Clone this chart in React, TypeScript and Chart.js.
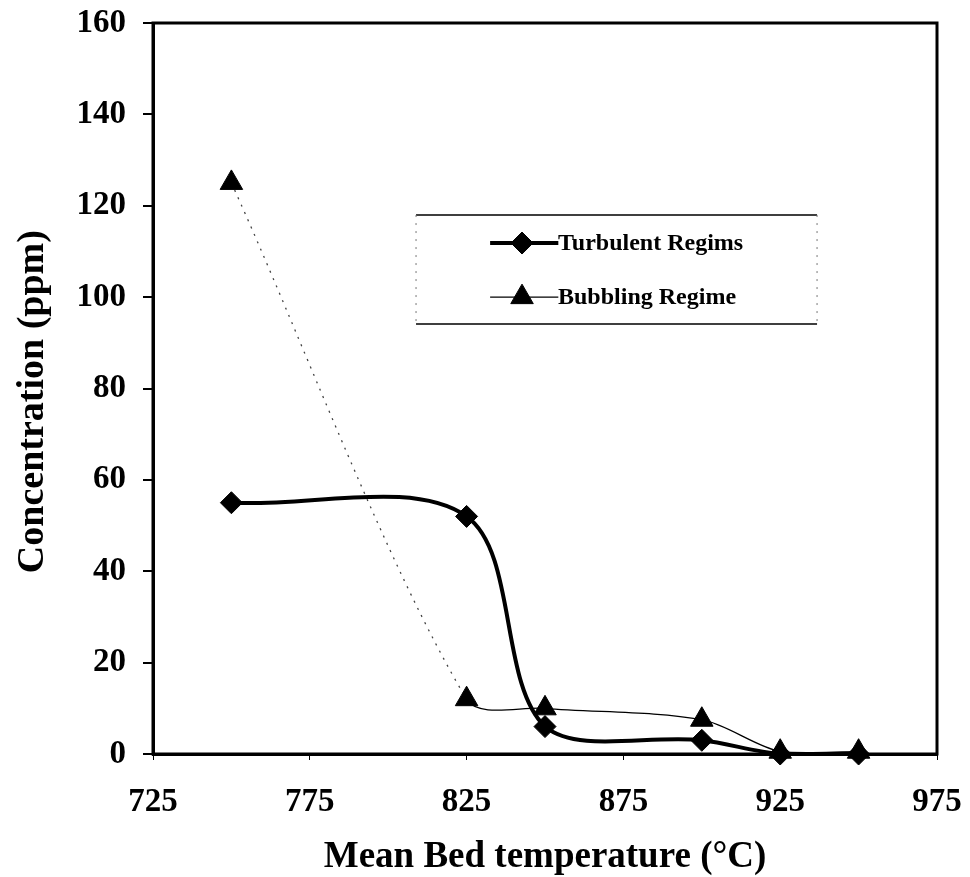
import React, { useEffect, useRef } from 'react';
import { Chart, registerables } from 'chart.js';
import { drawPoint } from 'chart.js/helpers';

Chart.register(...registerables);

const temperatures = [750, 825, 850, 900, 925, 950];
const turbulent = [55, 52, 6, 3, 0, 0];
const bubbling = [125, 12, 10, 7.5, 0.5, 0.5];
const xTickValues = [725, 775, 825, 875, 925, 975];
const yTickValues = [0, 20, 40, 60, 80, 100, 120, 140, 160];
const seriesNames = ['Turbulent Regims', 'Bubbling Regime'];
const xTitle = 'Mean Bed temperature (°C)';
const yTitle = 'Concentration (ppm)';

const FONT = "'Liberation Serif', 'Times New Roman', serif";

const framePlugin = {
  id: 'frame',
  beforeDatasetsDraw(chart: any) {
    const { ctx, chartArea: a } = chart;
    ctx.save();
    ctx.strokeStyle = '#000';
    ctx.lineWidth = 3;
    ctx.strokeRect(a.left, a.top, a.right - a.left, a.bottom - a.top);
    ctx.restore();
  },
};

const yTitlePlugin = {
  id: 'yTitle',
  afterDraw(chart: any) {
    const { ctx, chartArea: a } = chart;
    const h = a.bottom - a.top;
    ctx.save();
    ctx.translate(33, a.top + 0.518 * h);
    ctx.rotate(-Math.PI / 2);
    ctx.fillStyle = '#000';
    ctx.font = `bold 38px ${FONT}`;
    ctx.textAlign = 'center';
    ctx.textBaseline = 'middle';
    ctx.fillText(yTitle, 0, 0);
    ctx.restore();
  },
};

const legendPlugin = {
  id: 'customLegend',
  afterDraw(chart: any) {
    const { ctx, chartArea: a } = chart;
    const w = a.right - a.left;
    const h = a.bottom - a.top;
    const bx0 = a.left + 0.3355 * w;
    const bx1 = a.left + 0.847 * w;
    const by0 = a.top + 0.2627 * h;
    const by1 = a.top + 0.4118 * h;
    ctx.save();
    ctx.fillStyle = '#fff';
    ctx.fillRect(bx0, by0, bx1 - bx0, by1 - by0);
    ctx.strokeStyle = '#000';
    ctx.lineWidth = 1.5;
    ctx.beginPath();
    ctx.moveTo(bx0, by0); ctx.lineTo(bx1, by0);
    ctx.moveTo(bx0, by1); ctx.lineTo(bx1, by1);
    ctx.stroke();
    ctx.strokeStyle = '#777';
    ctx.lineWidth = 1;
    ctx.setLineDash([2, 6]);
    ctx.beginPath();
    ctx.moveTo(bx0, by0); ctx.lineTo(bx0, by1);
    ctx.moveTo(bx1, by0); ctx.lineTo(bx1, by1);
    ctx.stroke();
    ctx.setLineDash([]);

    const rows = [a.top + 0.301 * h, a.top + 0.375 * h];
    const lx0 = a.left + 0.430 * w;
    const lx1 = a.left + 0.517 * w;
    const mx = a.left + 0.4707 * w;
    const tx = a.left + 0.5217 * w;
    chart.data.datasets.forEach((ds: any, i: number) => {
      const y = rows[i];
      ctx.strokeStyle = '#000';
      ctx.lineWidth = ds.borderWidth;
      ctx.beginPath();
      ctx.moveTo(lx0, y);
      ctx.lineTo(lx1, y);
      ctx.stroke();
      ctx.fillStyle = '#000';
      ctx.lineWidth = 1;
      drawPoint(ctx, { pointStyle: ds.pointStyle, radius: ds.pointRadius, borderWidth: 1, rotation: 0 } as any, mx, y);
      ctx.fillStyle = '#000';
      ctx.font = `bold 24px ${FONT}`;
      ctx.textAlign = 'left';
      ctx.textBaseline = 'middle';
      ctx.fillText(ds.label, tx - 4, y + 1);
    });
    ctx.restore();
  },
};

export default function App() {
  const ref = useRef<HTMLCanvasElement>(null);
  useEffect(() => {
    const chart = new Chart(ref.current as HTMLCanvasElement, {
      type: 'line',
      data: {
        datasets: [
          {
            label: seriesNames[0],
            data: temperatures.map((t, i) => ({ x: t, y: turbulent[i] })),
            borderColor: '#000',
            backgroundColor: '#000',
            borderWidth: 4,
            tension: 0.33,
            pointStyle: 'rectRot',
            pointRadius: 11,
            pointBorderWidth: 1,
            pointBackgroundColor: '#000',
            pointBorderColor: '#000',
            clip: false as any,
          },
          {
            label: seriesNames[1],
            data: temperatures.map((t, i) => ({ x: t, y: bubbling[i] })),
            borderColor: '#000',
            backgroundColor: '#000',
            borderWidth: 1.3,
            tension: 0.3,
            pointStyle: 'triangle',
            pointRadius: 13,
            pointBorderWidth: 1,
            pointBackgroundColor: '#000',
            pointBorderColor: '#000',
            clip: false as any,
            segment: {
              borderDash: (c: any) => (c.p0DataIndex === 0 ? [2, 6] : undefined),
              borderColor: (c: any) => (c.p0DataIndex === 0 ? '#444' : undefined),
            },
          },
        ],
      },
      options: {
        animation: false,
        responsive: true,
        maintainAspectRatio: false,
        layout: { padding: { top: 23, right: 33, left: 0, bottom: 0 } },
        plugins: { legend: { display: false }, tooltip: { enabled: false } },
        scales: {
          x: {
            type: 'linear',
            min: 725,
            max: 975,
            afterBuildTicks: (s: any) => {
              s.ticks = xTickValues.map((v) => ({ value: v }));
            },
            afterFit: (s: any) => {
              s.height = 123;
              s.paddingLeft = 0;
              s.paddingRight = 0;
            },
            grid: { drawOnChartArea: false, color: '#000', lineWidth: 1, tickLength: 6 },
            border: { display: true, color: '#000', width: 3 },
            ticks: {
              color: '#000',
              padding: 23,
              maxRotation: 0,
              font: { family: FONT, size: 33, weight: 'bold' },
            },
            title: {
              display: true,
              text: xTitle,
              color: '#000',
              font: { family: FONT, size: 37, weight: 'bold', lineHeight: 1 },
              padding: { top: 0, bottom: 1 },
            },
          },
          y: {
            type: 'linear',
            min: 0,
            max: 160,
            afterBuildTicks: (s: any) => {
              s.ticks = yTickValues.map((v) => ({ value: v }));
            },
            afterFit: (s: any) => {
              s.width = 153;
              s.paddingTop = 0;
              s.paddingBottom = 0;
            },
            grid: { drawOnChartArea: false, color: '#000', lineWidth: 2, tickLength: 10 },
            border: { display: true, color: '#000', width: 3 },
            ticks: {
              color: '#000',
              padding: 17,
              font: { family: FONT, size: 33, weight: 'bold' },
            },
            title: { display: false },
          },
        },
      } as any,
      plugins: [framePlugin, legendPlugin, yTitlePlugin],
    });
    return () => chart.destroy();
  }, []);
  return (
    <div style={{ position: 'absolute', left: 0, top: 0, width: 970, height: 877, background: '#fff' }}>
      <canvas ref={ref} />
    </div>
  );
}
